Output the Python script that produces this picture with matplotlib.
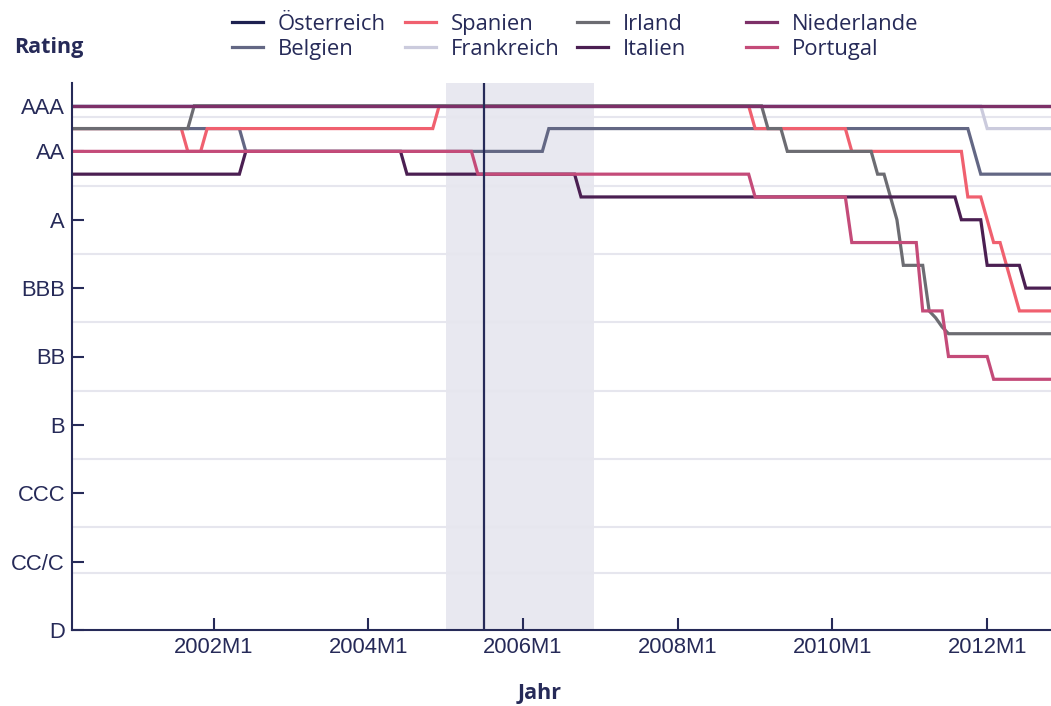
import matplotlib.pyplot as plt
import pandas as pd

plt.rcParams['font.family'] = ['Liberation Sans', 'DejaVu Sans']

navy = '#262a58'

# months shown, ratings as notches (D = 0 ... AAA = 23)
months = pd.period_range('2000-03', '2012-12', freq='M')
rating_labels = ['D', 'CC/C', 'CCC', 'B', 'BB', 'BBB', 'A', 'AA', 'AAA']
rating_ticks = [0, 3, 6, 9, 12, 15, 18, 21, 23]
grid_levels = [2.5, 4.5, 7.5, 10.5, 13.5, 16.5, 19.5, 22.5]
year_ticks = [2002, 2004, 2006, 2008, 2010, 2012]

# month from which a new rating holds
oesterreich_dates = ['2000-03']
oesterreich_rating = [23]
belgien_dates = ['2000-03', '2002-06', '2006-05', '2011-11', '2011-12']
belgien_rating = [22, 21, 22, 21, 20]
spanien_dates = ['2000-03', '2001-09', '2001-12', '2004-12', '2009-01', '2010-04',
                 '2011-10', '2012-01', '2012-02', '2012-04', '2012-05', '2012-06']
spanien_rating = [22, 21, 22, 23, 22, 21, 19, 18, 17, 16, 15, 14]
frankreich_dates = ['2000-03', '2012-01']
frankreich_rating = [23, 22]
irland_dates = ['2000-03', '2001-10', '2009-03', '2009-06', '2010-08', '2010-10',
                '2010-11', '2010-12', '2011-04', '2011-05', '2011-06', '2011-07']
irland_rating = [22, 23, 22, 21, 20, 19, 18, 16, 14, 13.7, 13.3, 13]
italien_dates = ['2000-03', '2002-06', '2004-07', '2006-10', '2011-09', '2012-01', '2012-07']
italien_rating = [20, 21, 20, 19, 18, 16, 15]
niederlande_dates = ['2000-03']
niederlande_rating = [23]
portugal_dates = ['2000-03', '2005-06', '2009-01', '2010-04', '2011-03', '2011-07', '2012-02']
portugal_rating = [21, 20, 19, 17, 14, 12, 11]

shade_start, shade_end = '2005-01', '2006-12'
marker_month = '2005-07'

countries = [
    ('Österreich', oesterreich_dates, oesterreich_rating, '#1e2150'),
    ('Belgien', belgien_dates, belgien_rating, '#636784'),
    ('Spanien', spanien_dates, spanien_rating, '#f0606f'),
    ('Frankreich', frankreich_dates, frankreich_rating, '#cbcbdd'),
    ('Irland', irland_dates, irland_rating, '#6c6c72'),
    ('Italien', italien_dates, italien_rating, '#4b1f52'),
    ('Niederlande', niederlande_dates, niederlande_rating, '#7d3068'),
    ('Portugal', portugal_dates, portugal_rating, '#c44b79'),
]


def to_year(p):
    return p.year + (p.month - 1) / 12


x = to_year(months)

fig = plt.figure(figsize=(10.51, 7.06), dpi=100)
ax = fig.add_axes([72 / 1051, 1 - 630 / 706, 1 - 72 / 1051, (630 - 83) / 706])

ax.axvspan(to_year(pd.Period(shade_start, 'M')), to_year(pd.Period(shade_end, 'M')),
           color='#e8e8f0', zorder=0, lw=0)

handles = []
for name, dates, rating, color in countries:
    s = pd.Series(rating, index=pd.PeriodIndex(dates, freq='M')).reindex(months).ffill()
    ln, = ax.plot(x, s.values, color=color, lw=2.3, label=name, zorder=2,
                  solid_joinstyle='miter')
    handles.append(ln)

ax.axvline(to_year(pd.Period(marker_month, 'M')), color=navy, lw=1.6, zorder=3)

ax.set_xlim(2000.17, 2002 + 129.9 / 12)
ax.set_ylim(0, 24)

ax.set_yticks(rating_ticks)
ax.set_yticklabels(rating_labels)
ax.set_yticks(grid_levels, minor=True)
ax.grid(which='minor', axis='y', color='#e6e6ee', lw=1.5, zorder=0)
ax.set_axisbelow(True)
ax.set_xticks(year_ticks)
ax.set_xticklabels([f'{y}M1' for y in year_ticks])

ax.tick_params(which='major', direction='in', length=8.5, width=1.5, color=navy,
               labelcolor=navy, labelsize=15.8, pad=5)
ax.tick_params(which='minor', length=0)
for side in ['top', 'right']:
    ax.spines[side].set_visible(False)
for side in ['left', 'bottom']:
    ax.spines[side].set_color(navy)
    ax.spines[side].set_linewidth(1.5)

bold = dict(family='Open Sans', weight='bold', size=15.5, color=navy)
fig.text(14 / 1051, 1 - 48 / 706, 'Rating', ha='left', va='center', **bold)
fig.text(540 / 1051, 1 - 693 / 706, 'Jahr', ha='center', va='center', **bold)

# legend: four columns of two entries
col_x = [232, 405, 577, 746]
for i, cx in enumerate(col_x):
    leg = fig.legend(handles=handles[2 * i:2 * i + 2], loc='upper left',
                     bbox_to_anchor=(cx / 1051, 1 - 14 / 706), frameon=False,
                     borderpad=0, borderaxespad=0, handlelength=1.4,
                     handletextpad=0.7, labelspacing=0.17,
                     prop=dict(family='Open Sans', size=15.8))
    for t in leg.get_texts():
        t.set_color(navy)

fig.savefig('out.png', dpi=100)
